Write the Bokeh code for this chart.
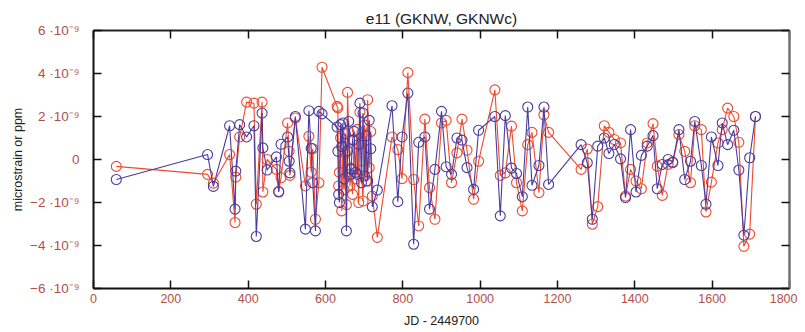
from bokeh.plotting import figure
from bokeh.models import LinearAxis, Range1d, CustomJSTickFormatter, FixedTicker, ColumnDataSource
from bokeh.embed import file_html
from bokeh.resources import INLINE

# Julian day offsets (JD - 2449700)
jd = [59, 295, 310, 352, 366, 368, 378, 396, 415, 421, 436, 438, 449, 473, 479, 485,
      502, 506, 508, 522, 548, 557, 563, 567, 574, 583, 591,
      630, 632, 634, 636, 639, 642, 645, 648, 651, 654, 657, 660, 663, 666, 670, 674,
      678, 682, 686, 689, 693, 697, 701, 705, 709, 713, 717, 721,
      734, 772, 787, 798, 813, 828, 841, 857, 869, 883, 900, 912, 926, 940, 953, 966,
      983, 996, 1038, 1052, 1065, 1081, 1094, 1109, 1123, 1134, 1152, 1165, 1177,
      1261, 1277, 1290, 1304, 1321, 1333, 1347, 1363, 1376, 1389, 1403, 1417, 1432,
      1447, 1458, 1471, 1486, 1498, 1514, 1529, 1544, 1555, 1572, 1584, 1598, 1615,
      1626, 1640, 1656, 1669, 1682, 1697, 1712]

# strain, in units of 1e-9
gknw = [-0.93, 0.23, -1.25, 1.57, -2.31, -0.54, 1.62, 1.05, 1.57, -3.58, 2.16, 0.54, -0.49, 0.12, -1.51, 0.71,
        1.05, -0.08, -0.62, 2.0, -3.24, 2.27, 0.52, -1.08, -3.32, 2.24, 2.12,
        1.51, 0.38, -1.62, -2.0, 1.62, 0.6, 1.7, -0.9, 1.2, -3.32, 0.4, 1.77, -0.7, -0.46, 0.9, 1.31,
        -0.6, -0.69, 0.7, 2.62, -1.08, 2.16, -0.77, 1.1, -1.0, 1.82, 0.5, -2.2,
        -1.42, 2.5, -1.96, 1.05, 3.09, -3.94, 0.8, 1.05, -2.31, -0.46, 2.24, -0.34, -0.69, 1.0, 0.9, -0.38,
        -1.39, 1.36, 2.0, -2.62, 2.04, -0.4, -0.65, -1.73, 2.44, -1.2, -0.28, 2.44, -1.16,
        0.69, -0.15, -2.78, 0.62, 1.0, 0.28, 0.7, 0.03, -1.77, 1.39, -1.51, 0.19, 0.62,
        1.11, -1.36, -0.23, 0.0, -0.12, 1.39, -0.93, -0.08, 1.77, -0.28, -2.08, 1.05, -0.28,
        1.7, 0.69, 1.36, -0.49, -3.52, 0.08, 2.0]

gknwc = [-0.32, -0.69, -1.1, 0.23, -2.93, -0.82, 1.05, 2.67, 2.62, -2.08, 2.67, -1.51, 0.0, -0.46, -1.48, -0.85,
         1.7, 0.38, -0.74, 1.93, -1.23, 1.08, -0.59, 0.5, -2.78, -1.08, 4.29,
         2.47, 2.4, -1.23, -0.6, 1.0, -2.39, 0.6, -1.4, 0.3, -2.1, 3.12, 1.3, -1.23, -0.4, -1.62, 0.9,
         -0.9, 1.4, -2.0, 2.2, -0.5, -1.93, 1.6, -1.0, 2.78, -0.38, 1.3, -1.7,
         -3.62, 1.05, 0.46, -0.89, 4.04, -0.93, -3.09, 1.88, -1.31, -2.78, 1.7, 1.82, -1.08, 0.31, 1.88, 0.43,
         -1.85, -0.08, 3.24, -0.74, -0.62, 1.55, -1.08, -2.39, 0.69, 1.26, -1.54, 2.08, 1.26,
         -0.46, 0.49, -3.01, -2.19, 1.57, 1.26, 0.93, 0.77, -1.7, -0.46, -1.0, -1.36, 0.77,
         1.67, -0.31, -1.67, -0.23, -0.15, 1.16, 0.38, -1.08, 1.57, 1.39, -2.44, -1.05, 0.77,
         1.39, 2.39, 2.0, 0.8, -4.04, -3.47, 2.0]

x_ticks = [0, 200, 400, 600, 800, 1000, 1200, 1400, 1600, 1800]
y_ticks = [-6e-9, -4e-9, -2e-9, 0, 2e-9, 4e-9, 6e-9]

scale = 1e-9
src = ColumnDataSource(dict(x=jd,
                            b=[v * scale for v in gknw],
                            r=[v * scale for v in gknwc]))

BLUE = "#4a3b9f"
RED = "#ee4a2c"
TICKC = "#b0504b"
FONT = "Liberation Sans"

p = figure(width=797, height=330, output_backend="svg", toolbar_location=None,
           x_range=Range1d(0, 1800), y_range=Range1d(-6e-9, 6e-9),
           min_border_left=93, min_border_right=8, min_border_top=30, min_border_bottom=35,
           title="e11 (GKNW, GKNWc)")
p.title.align = "center"
p.title.text_font = FONT
p.title.text_font_size = "15.5px"
p.title.text_font_style = "normal"
p.title.text_color = "#222222"
p.title.standoff = 7

p.grid.visible = False
p.outline_line_color = None
p.background_fill_color = "white"

yfmt = CustomJSTickFormatter(code="""
const n = Math.round(tick * 1e9);
if (n === 0) return "0";
const s = n < 0 ? "\u2212" + Math.abs(n) : String(n);
return s + " \u00b710\u207b\u2079";
""")

for ax in p.xaxis:
    ax.ticker = FixedTicker(ticks=x_ticks)
    ax.axis_label = "JD - 2449700"
for ax in p.yaxis:
    ax.ticker = FixedTicker(ticks=y_ticks)
    ax.formatter = yfmt
    ax.axis_label = "microstrain or ppm"

for ax in list(p.xaxis) + list(p.yaxis):
    ax.major_tick_in = 8
    ax.major_tick_out = 0
    ax.minor_tick_line_color = None
    ax.axis_line_width = 2
    ax.axis_line_color = "#111111"
    ax.major_tick_line_color = "#111111"
    ax.major_tick_line_width = 1.5
    ax.major_label_text_color = TICKC
    ax.major_label_text_font = FONT
    ax.major_label_text_font_size = "12.5px"
    ax.axis_label_text_font = FONT
    ax.axis_label_text_font_size = "12.5px"
    ax.axis_label_text_font_style = "normal"
    ax.axis_label_text_color = "#222222"
p.yaxis.major_label_text_font_size = "13.5px"
p.xaxis.major_label_standoff = 5
p.xaxis.axis_label_standoff = 8
p.yaxis.major_label_standoff = 14
p.yaxis.axis_label_standoff = 2

blank = CustomJSTickFormatter(code="return '';")
top = LinearAxis(ticker=FixedTicker(ticks=x_ticks), formatter=blank)
right = LinearAxis(ticker=FixedTicker(ticks=y_ticks), formatter=blank)
for ax, col, w in ((top, "#222222", 2), (right, "#707070", 2.5)):
    ax.major_tick_in = 8
    ax.major_tick_out = 0
    ax.minor_tick_line_color = None
    ax.axis_line_width = w
    ax.axis_line_color = col
    ax.major_tick_line_color = "#111111"
    ax.major_tick_line_width = 1.5
    ax.major_label_text_font_size = "1px"
    ax.major_label_standoff = 0
p.add_layout(top, "above")
p.add_layout(right, "right")

p.line("x", "r", source=src, line_color=RED, line_width=1.1)
p.scatter("x", "r", source=src, marker="circle", size=10, fill_color=None,
          line_color=RED, line_width=1.1)
p.line("x", "b", source=src, line_color=BLUE, line_width=1.1)
p.scatter("x", "b", source=src, marker="circle", size=10, fill_color=None,
          line_color=BLUE, line_width=1.1)

open("out.html", "w").write(file_html(p, INLINE))
